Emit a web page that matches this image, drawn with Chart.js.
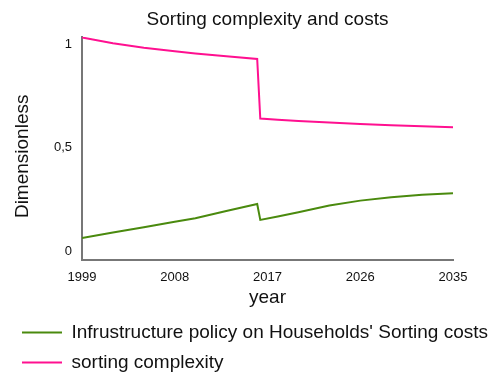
<!DOCTYPE html>
<html>
<head>
<meta charset="utf-8">
<script src="https://cdn.jsdelivr.net/npm/chart.js@4.4.0/dist/chart.umd.min.js"></script>
<style>
  html, body { margin: 0; padding: 0; background: #fff; }
  #wrap { width: 490px; height: 377px; position: relative; }
</style>
</head>
<body>
<div id="wrap"><canvas id="c"></canvas></div>
<script>
const years = [1999, 2002, 2005, 2008, 2010, 2013, 2016, 2016.3, 2018, 2020, 2023, 2026, 2029, 2032, 2035];
const sortingCosts = [0.066, 0.092, 0.118, 0.144, 0.161, 0.196, 0.230, 0.153, 0.170, 0.190, 0.222, 0.246, 0.262, 0.274, 0.282];
const sortingComplexity = [1.032, 1.004, 0.982, 0.965, 0.955, 0.941, 0.928, 0.641, 0.636, 0.630, 0.622, 0.615, 0.609, 0.604, 0.599];
const xTicks = [1999, 2008, 2017, 2026, 2035];
const yTicks = [0, 0.5, 1];
const seriesNames = ["Infrustructure policy on Households' Sorting costs", "sorting complexity"];

const FONT = "'Liberation Sans', Arial, sans-serif";

const titleToPlot = {
  id: 'titleToPlot',
  afterLayout(chart) {
    const t = chart.titleBlock;
    if (t) { t.left = chart.chartArea.left; t.right = chart.chartArea.right; }
  }
};

new Chart(document.getElementById('c'), {
  type: 'line',
  data: {
    datasets: [
      {
        label: seriesNames[0],
        data: years.map((x, i) => ({ x, y: sortingCosts[i] })),
        borderColor: '#4a8a0e',
        backgroundColor: '#4a8a0e',
        borderWidth: 2,
        pointRadius: 0,
        pointStyle: 'line',
        tension: 0
      },
      {
        label: seriesNames[1],
        data: years.map((x, i) => ({ x, y: sortingComplexity[i] })),
        borderColor: '#ff1090',
        backgroundColor: '#ff1090',
        borderWidth: 2,
        pointRadius: 0,
        pointStyle: 'line',
        tension: 0
      }
    ]
  },
  options: {
    responsive: true,
    maintainAspectRatio: false,
    animation: false,
    layout: { padding: { left: 11, right: 0, top: 4, bottom: -5 } },
    plugins: {
      title: {
        display: true,
        text: 'Sorting complexity and costs',
        color: '#111',
        font: { family: FONT, size: 19, weight: 'normal' },
        padding: { top: 4, bottom: 6 }
      },
      legend: {
        position: 'bottom',
        align: 'start',
        labels: {
          usePointStyle: true,
          pointStyleWidth: 40,
          boxHeight: 19,
          padding: 11,
          color: '#111',
          font: { family: FONT, size: 19 }
        }
      },
      tooltip: { enabled: false }
    },
    scales: {
      x: {
        type: 'linear',
        min: 1999,
        max: 2035,
        grid: { display: false, drawTicks: false },
        border: { display: true, color: '#777', width: 2 },
        afterBuildTicks(s) { s.ticks = xTicks.map(v => ({ value: v })); },
        afterFit(s) { s.height = 52; s.paddingRight = 37; },
        ticks: {
          padding: 10,
          color: '#111',
          maxRotation: 0,
          autoSkip: false,
          font: { family: FONT, size: 13 },
          callback: v => String(v)
        },
        title: {
          display: true,
          text: 'year',
          color: '#111',
          font: { family: FONT, size: 19 },
          padding: { top: 2, bottom: 3 }
        }
      },
      y: {
        min: -0.04,
        max: 1.035,
        grid: { display: false, drawTicks: false },
        border: { display: true, color: '#777', width: 2 },
        afterBuildTicks(s) { s.ticks = yTicks.map(v => ({ value: v })); },
        afterFit(s) { s.width = 71; },
        ticks: {
          padding: 10,
          color: '#111',
          font: { family: FONT, size: 13 },
          callback: v => String(v).replace('.', ',')
        },
        title: {
          display: true,
          text: 'Dimensionless   ',
          color: '#111',
          font: { family: FONT, size: 19 },
          padding: { top: 0, bottom: 4 }
        }
      }
    }
  },
  plugins: [titleToPlot]
});
</script>
</body>
</html>
